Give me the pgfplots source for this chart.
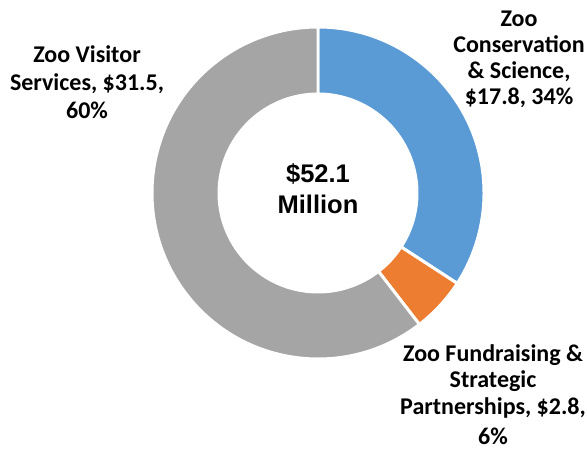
\documentclass[border=0pt]{standalone}
\usepackage{fontspec}
\setmainfont{Carlito}
\newfontfamily\arialfont{Liberation Sans}
\usepackage{pgfplots}
\usepackage{pgfplotstable}
\pgfplotsset{compat=1.18}

\definecolor{sliceblue}{HTML}{5B9BD5}
\definecolor{sliceorange}{HTML}{ED7D31}
\definecolor{slicegray}{HTML}{A5A5A5}

% budget in $ million
\pgfplotstableread{
part value
Conservation 17.8
Fundraising 2.8
Visitor 31.5
}\budget

\pgfplotstablegetelem{0}{value}\of\budget \let\vA\pgfplotsretval
\pgfplotstablegetelem{1}{value}\of\budget \let\vB\pgfplotsretval
\pgfplotstablegetelem{2}{value}\of\budget \let\vC\pgfplotsretval
\pgfmathsetmacro\total{\vA+\vB+\vC}
\pgfmathsetmacro\aA{90}
\pgfmathsetmacro\aB{\aA-360*\vA/\total}
\pgfmathsetmacro\aC{\aB-360*\vB/\total}
\pgfmathsetmacro\aD{\aC-360*\vC/\total}

% ring segment: start angle, end angle, colour
\newcommand\ringslice[3]{%
  \fill[#3, draw=white, line width=3pt, line join=miter]
    (axis cs:318,261) ++(#1:166bp) arc[start angle=#1, end angle=#2, radius=166bp]
    -- ++(#2:-67bp) arc[start angle=#2, end angle=#1, radius=99bp] -- cycle;}

\tikzset{
  lbl/.style={inner sep=0pt, anchor=base, font=\fontsize{24bp}{27bp}\selectfont\bfseries},
  tot/.style={inner sep=0pt, anchor=base, font=\arialfont\fontsize{25.5bp}{30bp}\selectfont\bfseries},
}

\begin{document}
\begin{tikzpicture}
\begin{axis}[
    scale only axis,
    width=587bp, height=454bp,
    xmin=0, xmax=587, ymin=0, ymax=454,
    axis line style={draw=none},
    xtick=\empty, ytick=\empty,
    clip=false,
]
\ringslice{\aA}{\aB}{sliceblue}
\ringslice{\aB}{\aC}{sliceorange}
\ringslice{\aC}{\aD}{slicegray}

% centre total
\node[tot] at (axis cs:318,271) {\$52.1};
\node[tot] at (axis cs:318,240) {Million};

% data labels
\node[lbl] at (axis cs:519,427) {Zoo};
\node[lbl] at (axis cs:519,401) {Conservation};
\node[lbl] at (axis cs:519,375) {\& Science,};
\node[lbl] at (axis cs:519,349) {\$17.8, 34\%};

\node[lbl] at (axis cs:87,391) {Zoo Visitor};
\node[lbl] at (axis cs:87,363) {Services, \$31.5,};
\node[lbl] at (axis cs:87,335) {60\%};

\node[lbl] at (axis cs:493,92) {Zoo Fundraising \&};
\node[lbl] at (axis cs:493,66) {Strategic};
\node[lbl] at (axis cs:493,39) {Partnerships, \$2.8,};
\node[lbl] at (axis cs:493,10) {6\%};
\end{axis}
\end{tikzpicture}
\end{document}
